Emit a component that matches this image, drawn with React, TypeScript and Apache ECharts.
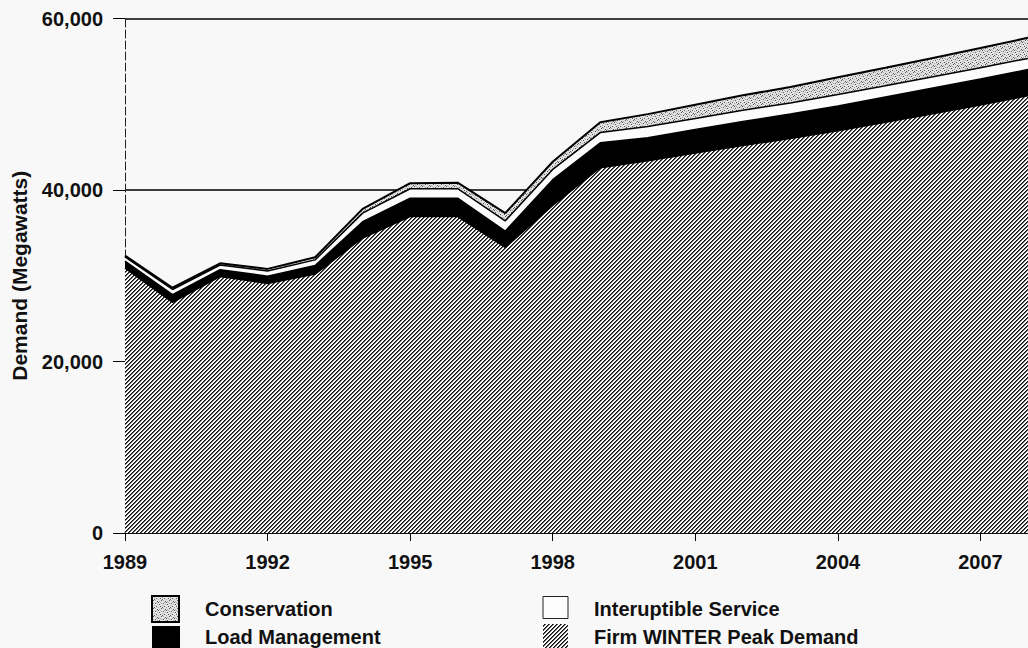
import { useEffect, useRef } from 'react';
import * as echarts from 'echarts';

const years = ['1989','1990','1991','1992','1993','1994','1995','1996','1997','1998','1999','2000','2001','2002','2003','2004','2005','2006','2007','2008'];
const firmWinter = [30900, 26900, 29900, 29100, 30200, 34400, 36900, 36900, 33300, 38200, 42600, 43400, 44300, 45200, 46000, 46900, 47900, 48900, 49900, 51000];
const loadManagement = [800, 900, 800, 850, 1000, 1900, 2150, 2150, 1900, 3000, 2900, 2700, 2750, 2800, 2850, 2900, 2950, 3000, 3050, 3050];
const interruptible = [500, 600, 550, 600, 650, 1000, 1100, 1100, 1200, 1200, 1200, 1300, 1300, 1300, 1300, 1350, 1300, 1300, 1300, 1300];
const conservation = [150, 200, 200, 250, 300, 500, 650, 700, 900, 900, 1200, 1450, 1600, 1750, 1850, 2000, 2100, 2200, 2300, 2400];
const legendNames = ['Conservation', 'Load Management', 'Interuptible Service', 'Firm WINTER Peak Demand'];

const FONT = "'Liberation Sans', Arial, Helvetica, sans-serif";
const BG = '#f8f8f8';

function makeHatch() {
  const n = 4;
  const c = document.createElement('canvas');
  c.width = n; c.height = n;
  const ctx = c.getContext('2d')!;
  const img = ctx.createImageData(n, n);
  for (let y = 0; y < n; y++) {
    for (let x = 0; x < n; x++) {
      const i = (y * n + x) * 4;
      const k = (x + y) % n;
      const v = k === 0 ? 15 : k === 1 ? 90 : 250;
      img.data[i] = v; img.data[i + 1] = v; img.data[i + 2] = v; img.data[i + 3] = 255;
    }
  }
  ctx.putImageData(img, 0, 0);
  return { image: c, repeat: 'repeat', imageWidth: n, imageHeight: n };
}

function makeStipple() {
  const n = 8;
  const c = document.createElement('canvas');
  c.width = n; c.height = n;
  const ctx = c.getContext('2d')!;
  ctx.fillStyle = '#e2e2e2';
  ctx.fillRect(0, 0, n, n);
  const darkPts = [[1, 0], [5, 1], [3, 3], [7, 4], [0, 6], [4, 6], [2, 7], [6, 2]];
  const midPts = [[3, 0], [7, 1], [1, 3], [5, 4], [2, 5], [6, 7], [0, 2], [4, 2]];
  ctx.fillStyle = '#555';
  darkPts.forEach(([x, y]) => ctx.fillRect(x, y, 1, 1));
  ctx.fillStyle = '#a8a8a8';
  midPts.forEach(([x, y]) => ctx.fillRect(x, y, 1, 1));
  return { image: c, repeat: 'repeat', imageWidth: n, imageHeight: n };
}

export default function App() {
  const ref = useRef<HTMLDivElement>(null);
  useEffect(() => {
    if (!ref.current) return;
    const chart = echarts.init(ref.current, undefined, { renderer: 'svg' });
    const hatch = makeHatch();
    const stipple = makeStipple();
    const line = { color: '#000', width: 1.5 };
    const textStyle = { fontFamily: FONT, fontWeight: 'bold' as const, fontSize: 20, fill: '#111' };
    chart.setOption({
      animation: false,
      backgroundColor: BG,
      grid: { left: 125, right: 0, top: 18.5, bottom: 115, containLabel: false },
      xAxis: {
        type: 'category',
        data: years,
        boundaryGap: false,
        axisLine: { lineStyle: { color: '#000', width: 1.5 } },
        axisTick: { interval: 2, length: 8, lineStyle: { color: '#000', width: 1 } },
        axisLabel: { interval: 2, margin: 19, fontFamily: FONT, fontWeight: 'bold', fontSize: 20, color: '#111' },
        splitLine: { show: false },
      },
      yAxis: {
        type: 'value',
        min: 0,
        max: 60000,
        interval: 20000,
        name: 'Demand (Megawatts)',
        nameLocation: 'middle',
        nameGap: 95,
        nameTextStyle: { fontFamily: FONT, fontWeight: 'bold', fontSize: 21, color: '#111' },
        axisLine: { show: true, lineStyle: { color: '#222', width: 1, type: [8, 3] } },
        axisTick: { show: true, length: 12, lineStyle: { color: '#000', width: 1 } },
        axisLabel: {
          margin: 22,
          fontFamily: FONT, fontWeight: 'bold', fontSize: 20, color: '#111',
          formatter: (v: number) => v.toLocaleString('en-US'),
        },
        splitLine: { show: true, lineStyle: { color: '#000', width: 1.5 } },
      },
      series: [
        {
          name: legendNames[3], type: 'line', stack: 'total', data: firmWinter,
          symbol: 'none', lineStyle: line, areaStyle: { color: hatch, opacity: 1 },
        },
        {
          name: legendNames[1], type: 'line', stack: 'total', data: loadManagement,
          symbol: 'none', lineStyle: line, areaStyle: { color: '#000', opacity: 1 },
        },
        {
          name: legendNames[2], type: 'line', stack: 'total', data: interruptible,
          symbol: 'none', lineStyle: line, areaStyle: { color: '#fcfcfc', opacity: 1 },
        },
        {
          name: legendNames[0], type: 'line', stack: 'total', data: conservation,
          symbol: 'none', lineStyle: { color: '#000', width: 2 }, areaStyle: { color: stipple, opacity: 1 },
        },
      ],
      graphic: [
        { type: 'rect', shape: { x: 152, y: 596, width: 27, height: 26 }, style: { fill: stipple, stroke: '#000', lineWidth: 2 } },
        { type: 'rect', shape: { x: 152, y: 626, width: 28, height: 30 }, style: { fill: '#000' } },
        { type: 'rect', shape: { x: 543, y: 596.5, width: 25, height: 22 }, style: { fill: '#fcfcfc', stroke: '#222', lineWidth: 1 } },
        { type: 'rect', shape: { x: 543, y: 624, width: 25, height: 30 }, style: { fill: hatch } },
        { type: 'text', x: 205, y: 609, style: { ...textStyle, text: legendNames[0], verticalAlign: 'middle' } },
        { type: 'text', x: 205, y: 637, style: { ...textStyle, text: legendNames[1], verticalAlign: 'middle' } },
        { type: 'text', x: 594, y: 609, style: { ...textStyle, text: legendNames[2], verticalAlign: 'middle' } },
        { type: 'text', x: 594, y: 637, style: { ...textStyle, text: legendNames[3], verticalAlign: 'middle' } },
      ],
    });
    return () => chart.dispose();
  }, []);
  return (
    <div
      ref={ref}
      style={{ position: 'fixed', left: 0, top: 0, width: 1028, height: 648, background: BG }}
    />
  );
}
